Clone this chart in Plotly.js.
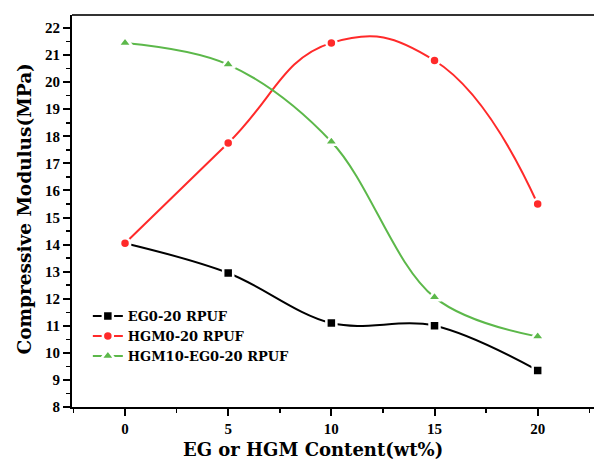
<!DOCTYPE html>
<html>
<head>
<meta charset="utf-8">
<script src="https://cdn.plot.ly/plotly-3.0.1.min.js"></script>
<style>
html,body{margin:0;padding:0;overflow:hidden;background:#fff;}
#chart{width:600px;height:461px;}
</style>
</head>
<body>
<div id="chart"></div>
<script>
const content = [0, 5, 10, 15, 20];
const eg = [14.05, 12.95, 11.1, 11.0, 9.35];
const hgm = [14.05, 17.75, 21.45, 20.8, 15.5];
const hgmEg = [21.45, 20.65, 17.8, 12.05, 10.6];
const seriesNames = ['EG0-20 RPUF', 'HGM0-20 RPUF', 'HGM10-EG0-20 RPUF'];
const xTicks = [0, 5, 10, 15, 20];
const yTicks = [8, 9, 10, 11, 12, 13, 14, 15, 16, 17, 18, 19, 20, 21, 22];

const font = 'Liberation Serif, Times New Roman, serif';
const titleFont = 'DejaVu Serif, Liberation Serif, serif';
function tr(y, name, color, symbol, size, sm) {
  return {
    x: content, y: y, name: name, type: 'scatter', mode: 'lines+markers',
    line: {color: color, width: 2, shape: 'spline', smoothing: sm},
    marker: {color: color, symbol: symbol, size: size, line: {color: '#fff', width: 2.5}}
  };
}
const data = [
  tr(eg, seriesNames[0], '#000000', 'square', 10, 1),
  tr(hgm, seriesNames[1], '#ff2a2a', 'circle', 10, 1.3),
  tr(hgmEg, seriesNames[2], '#5cb84a', 'triangle-up', 12, 1)
];
const layout = {
  width: 600, height: 461,
  margin: {l: 72, r: 0, t: 15, b: 54},
  paper_bgcolor: '#fff', plot_bgcolor: '#fff',
  showlegend: true,
  legend: {x: 0.03, y: 0.27, xanchor: 'left', yanchor: 'top', bgcolor: 'rgba(0,0,0,0)',
           font: {family: titleFont, size: 13, color: '#000', weight: 'bold'}, tracegroupgap: 0, itemwidth: 30},
  xaxis: {range: [-2.57, 23.02], tickvals: xTicks, ticktext: xTicks.map(String),
          showgrid: false, zeroline: false, showline: true, linecolor: '#000', linewidth: 2,
          ticks: 'outside', ticklen: 7, tickwidth: 2, tickcolor: '#000',
          minor: {dtick: 2.5, tick0: 0, ticks: 'outside', ticklen: 4, tickwidth: 1.5, tickcolor: '#000', showgrid: false},
          tickfont: {family: font, size: 15, color: '#000', weight: 'bold'}},
  yaxis: {range: [8, 22.48], tickvals: yTicks, ticktext: yTicks.map(String),
          showgrid: false, zeroline: false, showline: true, linecolor: '#000', linewidth: 2,
          ticks: 'outside', ticklen: 7, tickwidth: 2, tickcolor: '#000',
          minor: {dtick: 0.5, tick0: 0, ticks: 'outside', ticklen: 4, tickwidth: 1.5, tickcolor: '#000', showgrid: false},
          tickfont: {family: font, size: 15, color: '#000', weight: 'bold'}},
  shapes: [{type: 'line', xref: 'paper', yref: 'paper', x0: 0, x1: 1, y0: 1, y1: 1, line: {color: '#333', width: 2}}],
  annotations: [
    {text: 'EG or HGM Content(wt%)', xref: 'paper', yref: 'paper', x: (313 - 72) / 528, y: -0.14, xanchor: 'center', yanchor: 'bottom',
     showarrow: false, font: {family: titleFont, size: 18, color: '#000', weight: 'bold'}},
    {text: 'Compressive Modulus(MPa)', xref: 'paper', yref: 'paper', x: -0.09, y: 0.505, xanchor: 'center', yanchor: 'middle', textangle: -90,
     showarrow: false, font: {family: titleFont, size: 18.5, color: '#000', weight: 'bold'}}
  ]
};
Plotly.newPlot('chart', data, layout, {displayModeBar: false, staticPlot: true});
</script>
</body>
</html>
